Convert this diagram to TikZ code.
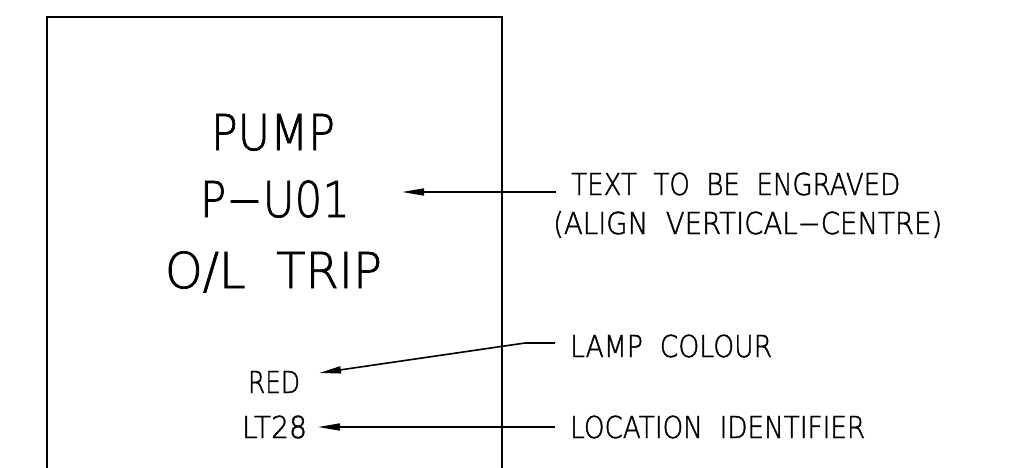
\documentclass[tikz,border=0pt]{standalone}
\usepackage{fontspec}
\usepackage{graphicx}
\usetikzlibrary{arrows.meta}
\newfontfamily\cadfont{DejaVu Sans ExtraLight}[FakeBold=1.5]
\newcommand{\cadfit}[2]{\resizebox{#1pt}{\height}{#2}}
\begin{document}
\begin{tikzpicture}[x=1pt,y=-1pt,
  big/.style={inner sep=0pt,anchor=base,font=\cadfont\fontsize{49.4}{50}\selectfont},
  small/.style={inner sep=0pt,anchor=base,font=\cadfont\fontsize{30.2}{31}\selectfont},
  smallw/.style={small,anchor=base west},
  frame/.style={line width=2.4pt},
  leader/.style={line width=1.6pt,-{Triangle[length=22pt,width=7pt]}}]
\useasboundingbox (0,0) rectangle (1019,468);
% plate outline (continues below the view)
\draw[frame] (47,469) -- (47,17) -- (502,17) -- (502,469);
% engraved text
\node[big] (pump) at (273,150) {\cadfit{124}{PUMP}};
\node[big] (tag)  at (275,217) {\cadfit{150}{P−U01}};
\node[big] (trip) at (273.5,288) {\cadfit{217}{O/L\ \ TRIP}};
\node[small] (red)  at (274,393) {\cadfit{52}{RED}};
\node[small] (lt)   at (274.5,438) {\cadfit{65}{LT28}};
% notes
\node[smallw] (n1a) at (571,195) {\cadfit{329}{TEXT\ \ TO\ \ BE\ \ ENGRAVED}};
\node[smallw] (n1b) at (553,234) {\cadfit{389}{(ALIGN\ \ VERTICAL−CENTRE)}};
\node[smallw] (n2)  at (570,357) {\cadfit{202}{LAMP\ \ COLOUR}};
\node[smallw] (n3)  at (570,438) {\cadfit{295}{LOCATION\ \ IDENTIFIER}};
% leader coordinates
\coordinate (s1) at (556,192);
\coordinate (e1) at (402,192);
\coordinate (s2) at (555,343);
\coordinate (b2) at (525,343);
\coordinate (e2) at (319,373);
\coordinate (s3) at (555,427);
\coordinate (e3) at (318,427);
\draw[leader] (s1) -- (e1);
\draw[leader] (s2) -- (b2) -- (e2);
\draw[leader] (s3) -- (e3);
\end{tikzpicture}
\end{document}
